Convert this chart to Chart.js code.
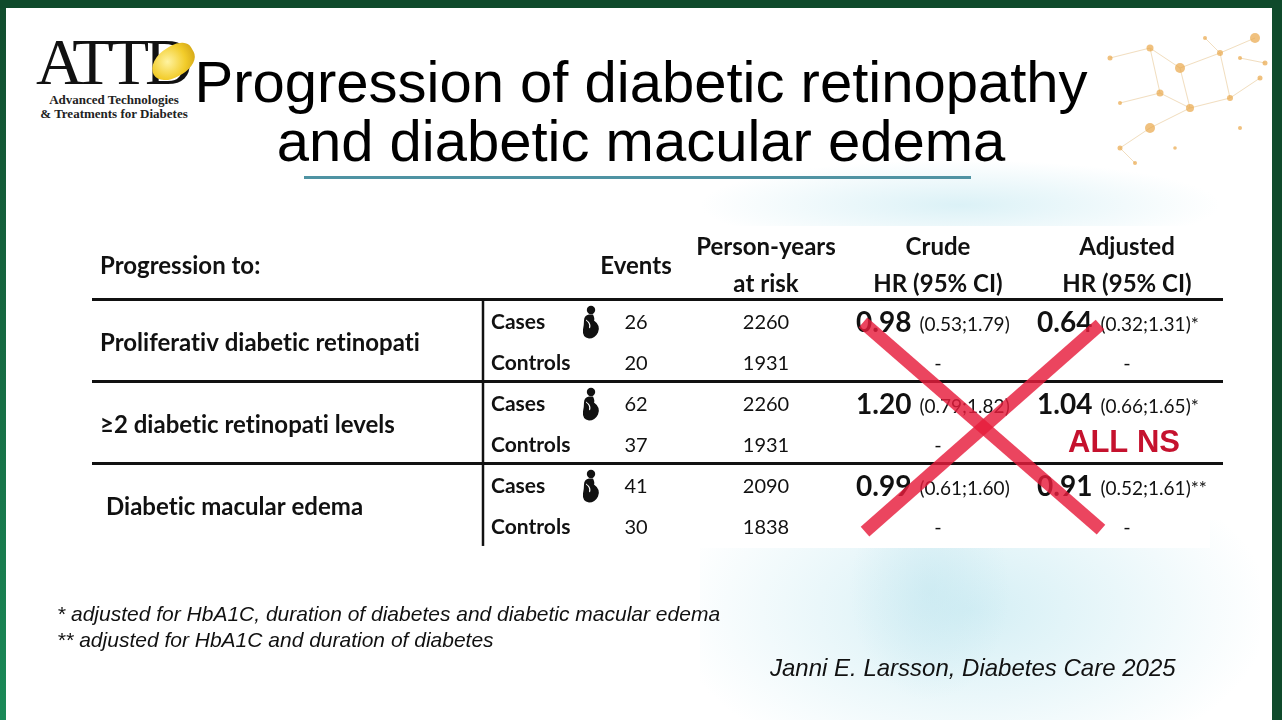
<!DOCTYPE html>
<html>
<head>
<meta charset="utf-8">
<script src="https://cdn.jsdelivr.net/npm/chart.js@4"></script>
<style>
  html, body { margin: 0; padding: 0; }
  body { width: 1282px; height: 720px; overflow: hidden; position: relative; background: #0f4a2b; }
  .slide { position: absolute; left: 6px; top: 8px; width: 1266px; height: 712px; background: #ffffff; }
  .blueTop { position: absolute; left: 640px; top: 150px; width: 640px; height: 110px;
    background: radial-gradient(ellipse 260px 45px at 320px 55px, rgba(200,234,242,0.65), rgba(255,255,255,0) 100%); }
  .blueBottom { position: absolute; left: 700px; top: 520px; width: 560px; height: 200px;
    background:
      radial-gradient(ellipse 80px 110px at 230px 70px, rgba(190,228,238,0.45), rgba(255,255,255,0) 100%),
      radial-gradient(ellipse 300px 170px at 270px 90px, rgba(205,236,243,0.85), rgba(255,255,255,0) 100%); }
  .tableBox { position: absolute; left: 80px; top: 226px; width: 1130px; height: 322px; background: #fff; }
  .leftbar { position: absolute; left: 0; top: 8px; width: 6px; height: 712px; background: linear-gradient(#114d2e, #1a8a58); }
  .logo { position: absolute; left: 36px; top: 31px; width: 170px; }
  .logo .big { font-family: "Liberation Serif", "DejaVu Serif", serif; font-size: 66px; line-height: 62px; letter-spacing: -4px; color: #111; }
  .logo .pan {
    position: absolute; left: 114px; top: 16px; width: 46px; height: 30px; border-radius: 60% 40% 50% 50%;
    transform: rotate(-30deg);
    background: radial-gradient(circle at 40% 40%, #fff3a0, #f2cc2a 55%, #c99a10);
  }
  .logo .sub { font-family: "Liberation Serif", serif; font-weight: bold; font-size: 13px; line-height: 14px; color: #222; text-align: center; width: 156px; }
  .title {
    position: absolute; left: 0; width: 1282px; top: 52px; text-align: center;
    font-family: "Liberation Sans", Arial, sans-serif; font-size: 58px; line-height: 59px; color: #000;
  }
  .uline { position: absolute; left: 304px; top: 176px; width: 667px; height: 3px; background: #4f93a3; }
  .net { position: absolute; left: 1090px; top: 18px; }
  .foot { position: absolute; left: 57px; font-family: "Liberation Sans", Arial, sans-serif; font-style: italic; font-size: 21px; color: #111; }
  .cite { position: absolute; left: 770px; top: 654px; font-family: "Liberation Sans", Arial, sans-serif; font-style: italic; font-size: 24px; color: #111; }
  #table { position: absolute; left: 0; top: 0; }
</style>
</head>
<body>
<div class="slide"></div>
<div class="blueTop"></div>
<div class="blueBottom"></div>
<div class="tableBox"></div>
<div class="leftbar"></div>

<div class="logo">
  <div class="big">ATTD</div>
  <div class="pan"></div>
  <div class="sub">Advanced Technologies<br>&amp; Treatments for Diabetes</div>
</div>

<svg class="net" width="182" height="160" viewBox="0 0 182 160">
  <g stroke="#ecd0a4" stroke-width="1" opacity="0.7">
    <line x1="20" y1="40" x2="60" y2="30"/><line x1="60" y1="30" x2="90" y2="50"/>
    <line x1="90" y1="50" x2="130" y2="35"/><line x1="130" y1="35" x2="165" y2="20"/>
    <line x1="90" y1="50" x2="100" y2="90"/><line x1="100" y1="90" x2="60" y2="110"/>
    <line x1="60" y1="110" x2="30" y2="130"/><line x1="100" y1="90" x2="140" y2="80"/>
    <line x1="140" y1="80" x2="170" y2="60"/><line x1="60" y1="30" x2="70" y2="75"/>
    <line x1="70" y1="75" x2="100" y2="90"/><line x1="30" y1="85" x2="70" y2="75"/>
    <line x1="130" y1="35" x2="140" y2="80"/><line x1="45" y1="145" x2="30" y2="130"/>
    <line x1="150" y1="40" x2="175" y2="45"/><line x1="115" y1="20" x2="130" y2="35"/>
  </g>
  <g fill="#eaa84a" opacity="0.7">
    <circle cx="20" cy="40" r="2.5"/><circle cx="60" cy="30" r="3.5"/><circle cx="90" cy="50" r="5"/>
    <circle cx="130" cy="35" r="3"/><circle cx="165" cy="20" r="5"/><circle cx="100" cy="90" r="4"/>
    <circle cx="60" cy="110" r="5"/><circle cx="30" cy="130" r="2.5"/><circle cx="140" cy="80" r="3"/>
    <circle cx="170" cy="60" r="2.5"/><circle cx="70" cy="75" r="3.5"/><circle cx="30" cy="85" r="2"/>
    <circle cx="45" cy="145" r="2"/><circle cx="115" cy="20" r="2"/><circle cx="150" cy="110" r="2"/>
    <circle cx="150" cy="40" r="2"/><circle cx="175" cy="45" r="2.5"/><circle cx="85" cy="130" r="1.8"/>
  </g>
</svg>

<div class="title">Progression of diabetic retinopathy<br>and diabetic macular edema</div>
<div class="uline"></div>

<canvas id="table" width="1282" height="720"></canvas>

<div class="foot" style="top:602px">* adjusted for HbA1C, duration of diabetes and diabetic macular edema</div>
<div class="foot" style="top:628px">** adjusted for HbA1C and duration of diabetes</div>
<div class="cite">Janni E. Larsson, Diabetes Care 2025</div>

<script>
// table values
var outcomes = ['Proliferativ diabetic retinopati', '\u22652 diabetic retinopati levels', 'Diabetic macular edema'];
var groups = ['Cases', 'Controls'];
var eventsCases = [26, 62, 41];
var eventsControls = [20, 37, 30];
var pyCases = [2260, 2260, 2090];
var pyControls = [1931, 1931, 1838];
var crudeHR = ['0.98', '1.20', '0.99'];
var crudeCI = ['(0.53;1.79)', '(0.79;1.82)', '(0.61;1.60)'];
var adjHR = ['0.64', '1.04', '0.91'];
var adjCI = ['(0.32;1.31)', '(0.66;1.65)', '(0.52;1.61)'];
var adjMark = ['*', '*', '**'];
var headerTop = ['Person-years', 'Crude', 'Adjusted'];
var headerBottom = ['at risk', 'HR (95% CI)', 'HR (95% CI)'];

var FONT = 'Lato, "Open Sans", sans-serif';

// column positions along the table width (x axis units)
var COL = { label: 8, group: 399, icon: 498, events: 544, py: 674, crude: 764, crudeMid: 846, adj: 945, adjMid: 1035, rule: 391 };

function cell(x, y, text, style) {
    return { x: x, y: y, text: text, style: style };
}

function buildDatasets() {
    var head = [], labels = [], grp = [], icons = [], ev = [], py = [], crude = [], adj = [];
    head.push(cell(COL.label, -1.37, 'Progression to:', 'headL'));
    head.push(cell(COL.events, -1.37, 'Events', 'head'));
    [COL.py, COL.crudeMid, COL.adjMid].forEach(function(x, i) {
        head.push(cell(x, -1.83, headerTop[i], 'head'));
        head.push(cell(x, -0.93, headerBottom[i], 'head'));
    });
    outcomes.forEach(function(name, i) {
        var r = i * 2;
        labels.push(cell(COL.label + (i == 2 ? 6 : 0), r + 0.5, name, 'headL'));
        groups.forEach(function(g, j) { grp.push(cell(COL.group, r + j, g, 'groupL')); });
        icons.push(cell(COL.icon, r, '', 'icon'));
        ev.push(cell(COL.events, r, String(eventsCases[i]), 'num'));
        ev.push(cell(COL.events, r + 1, String(eventsControls[i]), 'num'));
        py.push(cell(COL.py, r, String(pyCases[i]), 'num'));
        py.push(cell(COL.py, r + 1, String(pyControls[i]), 'num'));
        crude.push(cell(COL.crude, r, [crudeHR[i], crudeCI[i], ''], 'hr'));
        crude.push(cell(COL.crudeMid, r + 1, '-', 'num'));
        adj.push(cell(COL.adj, r, [adjHR[i], adjCI[i], adjMark[i]], 'hr'));
        // the second dash is hidden under the "ALL NS" note
        adj.push(cell(COL.adjMid, r + 1, '-', i == 1 ? 'hidden' : 'num'));
    });
    return [head, labels, grp, icons, ev, py, crude, adj].map(function(d) {
        return { data: d, pointRadius: 0, showLine: false };
    });
}

function drawIcon(ctx, cx, cy) {
    ctx.save();
    ctx.fillStyle = '#111';
    ctx.beginPath();
    ctx.arc(cx + 1, cy - 12.5, 4.2, 0, Math.PI * 2);
    ctx.fill();
    ctx.beginPath();
    ctx.moveTo(cx - 1, cy - 8);
    ctx.lineTo(cx + 3, cy - 8);
    ctx.quadraticCurveTo(cx + 5, cy - 4, cx + 4, cy - 2);
    ctx.quadraticCurveTo(cx + 11, cy + 3, cx + 8, cy + 10);
    ctx.quadraticCurveTo(cx + 5, cy + 16, cx - 1, cy + 16);
    ctx.quadraticCurveTo(cx - 8, cy + 15, cx - 7, cy + 7);
    ctx.quadraticCurveTo(cx - 6, cy + 2, cx - 6, cy - 2);
    ctx.quadraticCurveTo(cx - 6, cy - 7, cx - 1, cy - 8);
    ctx.fill();
    ctx.fillStyle = '#fff';
    ctx.beginPath();
    ctx.moveTo(cx - 4, cy - 3);
    ctx.quadraticCurveTo(cx + 2, cy + 1, cx, cy + 6);
    ctx.lineTo(cx - 1, cy + 5);
    ctx.quadraticCurveTo(cx, cy + 1, cx - 4, cy - 2);
    ctx.fill();
    ctx.restore();
}

var tablePlugin = {
    id: 'tablePlugin',
    afterDatasetsDraw: function(chart) {
        var ctx = chart.ctx;
        var xs = chart.scales.x, ys = chart.scales.y;
        var area = chart.chartArea;

        // horizontal rules and vertical divider
        ctx.save();
        ctx.strokeStyle = '#111';
        ctx.lineWidth = 3;
        [-0.56, 1.44, 3.44].forEach(function(v) {
            var y = ys.getPixelForValue(v);
            ctx.beginPath(); ctx.moveTo(area.left, y); ctx.lineTo(area.right, y); ctx.stroke();
        });
        ctx.lineWidth = 2.5;
        ctx.beginPath();
        ctx.moveTo(xs.getPixelForValue(COL.rule), ys.getPixelForValue(-0.56));
        ctx.lineTo(xs.getPixelForValue(COL.rule), ys.getPixelForValue(5.45));
        ctx.stroke();
        ctx.restore();

        // cell texts
        chart.data.datasets.forEach(function(ds, di) {
            var meta = chart.getDatasetMeta(di);
            meta.data.forEach(function(pt, i) {
                var c = ds.data[i];
                var x = pt.x, y = pt.y;
                ctx.save();
                ctx.fillStyle = '#111';
                ctx.textBaseline = 'middle';
                ctx.letterSpacing = '0.01px'; // keeps Lato from joining "ti"
                if (c.style == 'headL') {
                    ctx.font = 'bold 24px ' + FONT; ctx.textAlign = 'left'; ctx.fillText(c.text, x, y);
                } else if (c.style == 'head') {
                    ctx.font = 'bold 24px ' + FONT; ctx.textAlign = 'center'; ctx.fillText(c.text, x, y);
                } else if (c.style == 'groupL') {
                    ctx.font = 'bold 21px ' + FONT; ctx.textAlign = 'left'; ctx.fillText(c.text, x, y);
                } else if (c.style == 'num') {
                    ctx.font = '20px ' + FONT; ctx.textAlign = 'center'; ctx.fillText(c.text, x, y);
                } else if (c.style == 'icon') {
                    drawIcon(ctx, x, y);
                } else if (c.style == 'hr') {
                    ctx.textAlign = 'left';
                    ctx.font = 'bold 28px ' + FONT;
                    ctx.fillText(c.text[0], x, y);
                    var w = ctx.measureText(c.text[0]).width;
                    ctx.font = '19px ' + FONT;
                    ctx.fillText(c.text[1] + c.text[2], x + w + 8, y + 2);
                }
                ctx.restore();
            });
        });

        // ALL NS note
        ctx.save();
        ctx.fillStyle = '#c5122e';
        ctx.font = 'bold 31px "Liberation Sans", Arial, sans-serif';
        ctx.textAlign = 'center';
        ctx.textBaseline = 'middle';
        ctx.fillText('ALL NS', xs.getPixelForValue(COL.adjMid - 3), ys.getPixelForValue(2.95));
        ctx.restore();

        // red cross over the hazard ratio columns
        ctx.save();
        ctx.strokeStyle = 'rgba(230, 28, 60, 0.82)';
        ctx.lineWidth = 13;
        ctx.lineCap = 'butt';
        ctx.beginPath();
        ctx.moveTo(xs.getPixelForValue(771), ys.getPixelForValue(0));
        ctx.lineTo(xs.getPixelForValue(1009), ys.getPixelForValue(5.05));
        ctx.stroke();
        ctx.beginPath();
        ctx.moveTo(xs.getPixelForValue(1008), ys.getPixelForValue(0.05));
        ctx.lineTo(xs.getPixelForValue(773), ys.getPixelForValue(5.1));
        ctx.stroke();
        ctx.restore();
    }
};

document.addEventListener("DOMContentLoaded", function() {
    var ctx = document.getElementById('table').getContext('2d');
    new Chart(ctx, {
        type: 'scatter',
        data: { datasets: buildDatasets() },
        options: {
            responsive: false,
            animation: false,
            events: [],
            layout: { padding: { left: 92, right: 59, top: 220, bottom: 172 } },
            plugins: { legend: { display: false }, tooltip: { enabled: false } },
            scales: {
                x: { type: 'linear', min: 0, max: 1131, display: false },
                y: { type: 'linear', min: -2.5, max: 5.5, reverse: true, display: false }
            }
        },
        plugins: [tablePlugin]
    });
});
</script>
</body>
</html>
